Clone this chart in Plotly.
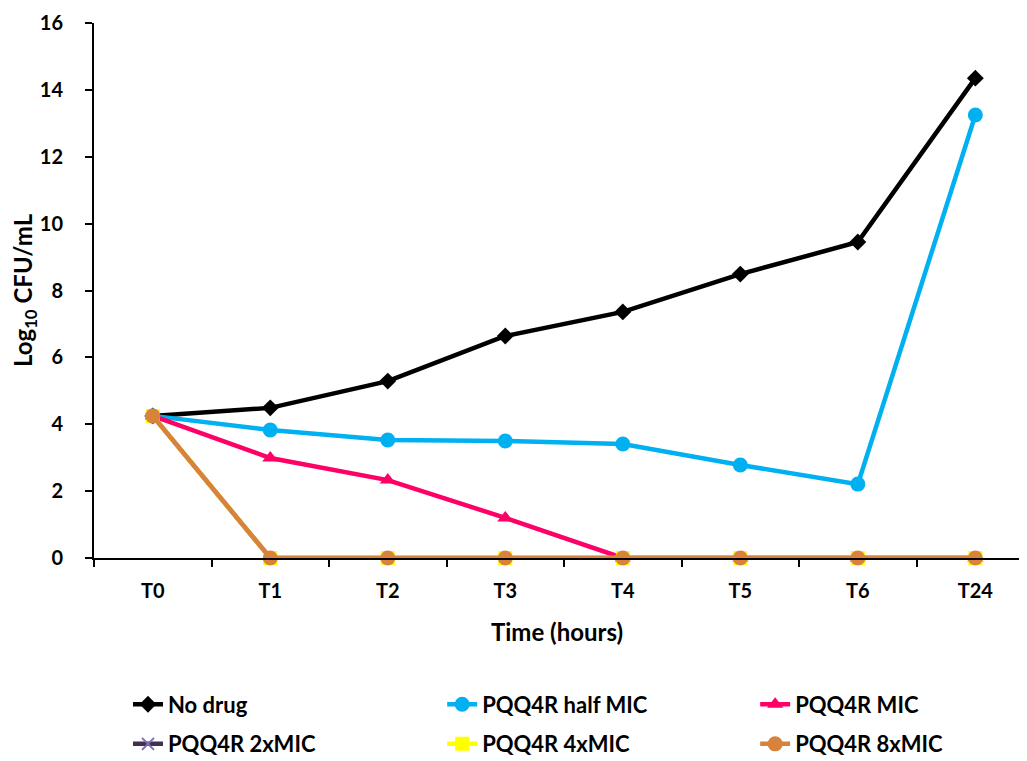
import plotly.graph_objects as go

times = ["T0", "T1", "T2", "T3", "T4", "T5", "T6", "T24"]
no_drug = [4.25, 4.49, 5.29, 6.64, 7.36, 8.49, 9.45, 14.35]
half_mic = [4.25, 3.83, 3.53, 3.50, 3.41, 2.78, 2.21, 13.25]
mic = [4.25, 2.99, 2.33, 1.20, 0, 0, 0, 0]
mic2x = [4.25, 0, 0, 0, 0, 0, 0, 0]
mic4x = [4.25, 0, 0, 0, 0, 0, 0, 0]
mic8x = [4.25, 0, 0, 0, 0, 0, 0, 0]

series = [
    ("No drug", no_drug, "#000000", "diamond", 13, "legend"),
    ("PQQ4R half MIC", half_mic, "#00B0F0", "circle", 15, "legend2"),
    ("PQQ4R MIC", mic, "#FF0066", "triangle-up", 14, "legend3"),
    ("PQQ4R 2xMIC", mic2x, "#403152", "x-thin", 12, "legend"),
    ("PQQ4R 4xMIC", mic4x, "#FFFF00", "square", 14, "legend2"),
    ("PQQ4R 8xMIC", mic8x, "#D9823B", "circle", 15, "legend3"),
]

font = "Lato"
fig = go.Figure()
for i, (name, vals, color, sym, size, lg) in enumerate(series):
    marker = dict(symbol=sym, size=size, color=color)
    if sym == "x-thin":
        marker["line"] = dict(color="#7F6FB0", width=2)
    fig.add_trace(go.Scatter(
        x=times, y=vals, name=name, mode="lines+markers",
        line=dict(color=color, width=4.5), marker=marker,
        legend=lg, legendgroup=name, cliponaxis=False,
    ))

leg_font = dict(family=font, size=22, color="black", weight="bold")
def leg(xp):
    return dict(
        orientation="v", x=xp, y=0.103, xref="paper", yref="container",
        xanchor="left", yanchor="top", font=leg_font,
        tracegroupgap=8, bgcolor="rgba(0,0,0,0)",
    )

fig.update_layout(
    width=1019, height=753,
    paper_bgcolor="white", plot_bgcolor="white",
    margin=dict(l=86, r=7, t=15, b=203, autoexpand=False),
    font=dict(family=font, color="black", size=18),
    legend=leg(0.0367), legend2=leg(0.376), legend3=leg(0.714),
    showlegend=True,
)
fig.update_xaxes(
    type="category", range=[-0.5, 7.38], automargin=False,
    showline=True, linecolor="black", linewidth=2,
    ticks="outside", tickson="boundaries", ticklen=7, tickwidth=2, tickcolor="black",
    showgrid=False, zeroline=False, ticklabelstandoff=14,
    tickfont=dict(family=font, size=20, color="black", weight="bold"),
    title=dict(text="Time (hours)", standoff=23,
               font=dict(family=font, size=24, color="black", weight="bold")),
)
fig.update_yaxes(
    range=[0, 16], dtick=2, automargin=False,
    showline=True, linecolor="black", linewidth=2,
    ticks="outside", ticklen=7, tickwidth=2, tickcolor="black",
    showgrid=False, zeroline=False, ticklabelstandoff=18,
    tickfont=dict(family=font, size=20, color="black", weight="bold"),
    title=dict(text="Log<sub>10</sub> CFU/mL", standoff=10,
               font=dict(family=font, size=24, color="black", weight="bold")),
)

fig.write_html("out.html")
